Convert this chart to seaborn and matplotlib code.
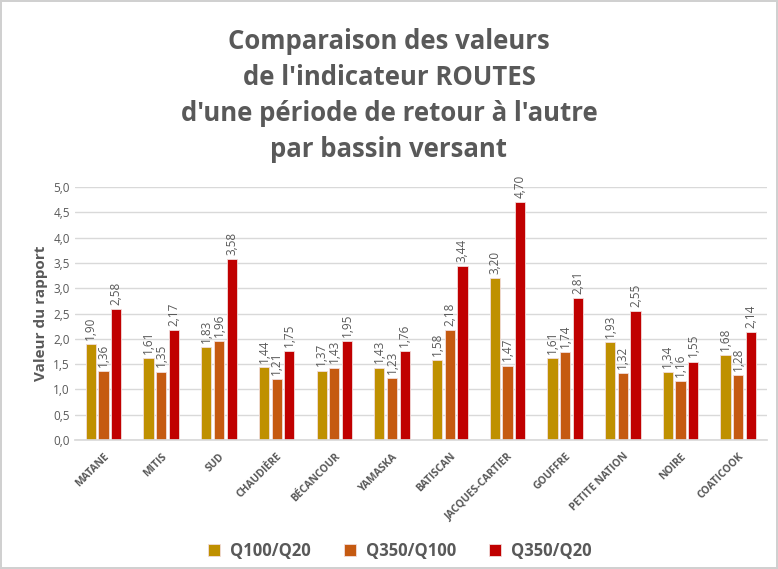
import matplotlib
matplotlib.use("Agg")
import matplotlib.pyplot as plt
import seaborn as sns
import pandas as pd

bassins = ["MATANE", "MITIS", "SUD", "CHAUDIÈRE", "BÉCANCOUR", "YAMASKA", "BATISCAN",
           "JACQUES-CARTIER", "GOUFFRE", "PETITE NATION", "NOIRE", "COATICOOK"]
q100_q20 = [1.90, 1.61, 1.83, 1.44, 1.37, 1.43, 1.58, 3.20, 1.61, 1.93, 1.34, 1.68]
q350_q100 = [1.36, 1.35, 1.96, 1.21, 1.43, 1.23, 2.18, 1.47, 1.74, 1.32, 1.16, 1.28]
q350_q20 = [2.58, 2.17, 3.58, 1.75, 1.95, 1.76, 3.44, 4.70, 2.81, 2.55, 1.55, 2.14]
series = ["Q100/Q20", "Q350/Q100", "Q350/Q20"]
colors = ["#BF9000", "#C55A11", "#C00000"]

df = pd.DataFrame({
    "bassin": bassins * 3,
    "serie": [s for s in series for _ in bassins],
    "valeur": q100_q20 + q350_q100 + q350_q20,
})

sns.set_theme(style="white")
plt.rcParams["font.family"] = ["Open Sans", "DejaVu Sans"]
grey = "#595959"

fig = plt.figure(figsize=(7.78, 5.69), dpi=100)
fig.patch.set_edgecolor("#D0D0D0")
fig.patch.set_linewidth(1.5)
ax = fig.add_axes([0.096, 0.227, 0.89, 0.444])

sns.barplot(data=df, x="bassin", y="valeur", hue="serie", palette=colors, saturation=1,
            width=0.66, gap=0.2, edgecolor="#F2DCDB", linewidth=0.6, ax=ax, legend=True)

for cont in ax.containers:
    ax.bar_label(cont, labels=[f"{b.get_height():.2f}".replace(".", ",") for b in cont],
                 rotation=90, padding=3, fontsize=8.5, color=grey)

ax.set_ylim(0, 5)
ax.set_yticks([i * 0.5 for i in range(11)])
ax.set_yticklabels([f"{i * 0.5:.1f}".replace(".", ",") for i in range(11)], fontsize=8.5, color=grey)
ax.yaxis.grid(True, color="#D9D9D9", linewidth=1)
ax.set_axisbelow(True)
for s in ["top", "right", "left"]:
    ax.spines[s].set_visible(False)
ax.spines["bottom"].set_color("#D9D9D9")
ax.tick_params(axis="both", length=0)
ax.tick_params(axis="x", pad=8)
ax.set_xlabel("")
ax.set_ylabel("Valeur du rapport", fontsize=11, fontweight="bold", color=grey)
plt.setp(ax.get_xticklabels(), rotation=45, ha="right", rotation_mode="anchor",
         fontsize=7.5, fontweight="bold", color=grey)

ax.legend(loc="upper center", bbox_to_anchor=(0.47, -0.345), ncol=3, frameon=False,
          prop={"size": 12, "weight": "bold"}, labelcolor=grey, handlelength=0.7,
          handleheight=0.7, columnspacing=2.0, handletextpad=0.6)

fig.suptitle("Comparaison des valeurs\nde l'indicateur ROUTES\nd'une période de retour à l'autre\npar bassin versant",
             y=0.95, fontsize=18.5, fontweight="bold", color=grey, linespacing=1.42)

fig.savefig("out.png", dpi=100)
